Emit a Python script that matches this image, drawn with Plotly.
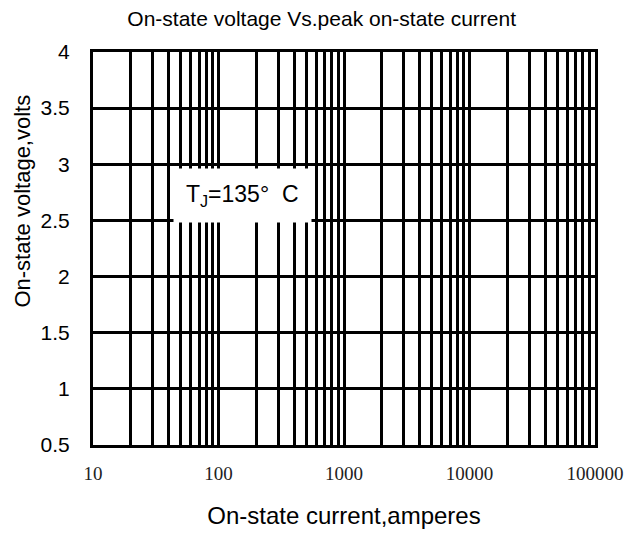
import math
import plotly.graph_objects as go

# Axis values
decades = [10, 100, 1000, 10000, 100000]
x_tick_labels = ["10", "100", "1000", "10000", "100000"]
y_ticks = [0.5, 1, 1.5, 2, 2.5, 3, 3.5, 4]
y_tick_labels = ["0.5", "1", "1.5", "2", "2.5", "3", "3.5", "4"]

# Annotation
note_x = 155
note_y = 2.72
note_text = "T<sub>J</sub>=135°  C"

# Build all log grid positions (1..9 x each decade)
x_grid = []
x_grid_text = []
for d, lab in zip(decades[:-1], x_tick_labels[:-1]):
    for m in range(1, 10):
        x_grid.append(d * m)
        x_grid_text.append(lab if m == 1 else "")
x_grid.append(decades[-1])
x_grid_text.append(x_tick_labels[-1])

fig = go.Figure()
fig.add_trace(go.Scatter(x=[None], y=[None], mode="lines", showlegend=False))

fig.update_layout(
    width=635, height=533,
    margin=dict(l=85, r=48, t=44, b=96, autoexpand=False),
    paper_bgcolor="white", plot_bgcolor="white",
    title=dict(text="On-state voltage Vs.peak on-state current",
               x=0.494, xanchor="center", y=1 - 11 / 533, yanchor="middle",
               font=dict(family="Liberation Sans, Arial", size=21, color="black")),
    showlegend=False,
)
fig.update_xaxes(
    type="log", range=[1, 5], automargin=False,
    tickvals=x_grid, ticktext=x_grid_text,
    showgrid=True, gridcolor="black", gridwidth=2.5,
    showline=True, linecolor="black", linewidth=3, mirror=True,
    ticks="outside", ticklen=9, tickcolor="rgba(0,0,0,0)",
    tickfont=dict(family="Liberation Serif, Times New Roman", size=19, color="#222"),
    title=dict(text="On-state current,amperes", standoff=25,
               font=dict(family="Liberation Sans, Arial", size=24, color="black")),
    zeroline=False,
)
fig.update_yaxes(
    range=[0.5, 4], automargin=False,
    tickvals=y_ticks, ticktext=y_tick_labels,
    showgrid=True, gridcolor="black", gridwidth=2.5,
    showline=True, linecolor="black", linewidth=3, mirror=True,
    ticks="outside", ticklen=16, tickcolor="rgba(0,0,0,0)",
    tickfont=dict(family="Liberation Sans, Arial", size=21, color="black"),
    zeroline=False,
)
# Y axis title (placed off-centre as in the reference)
fig.add_annotation(
    x=-0.141, y=0.62, xref="paper", yref="paper", textangle=-90,
    text="On-state voltage,volts", showarrow=False,
    xanchor="center", yanchor="middle",
    font=dict(family="Liberation Sans, Arial", size=22, color="black"),
)
fig.add_annotation(
    x=math.log10(note_x), y=note_y, xref="x", yref="y", text=note_text, showarrow=False,
    font=dict(family="Liberation Sans, Arial", size=23, color="black"),
    bgcolor="white", borderpad=12,
)

fig.write_html("out.html")
